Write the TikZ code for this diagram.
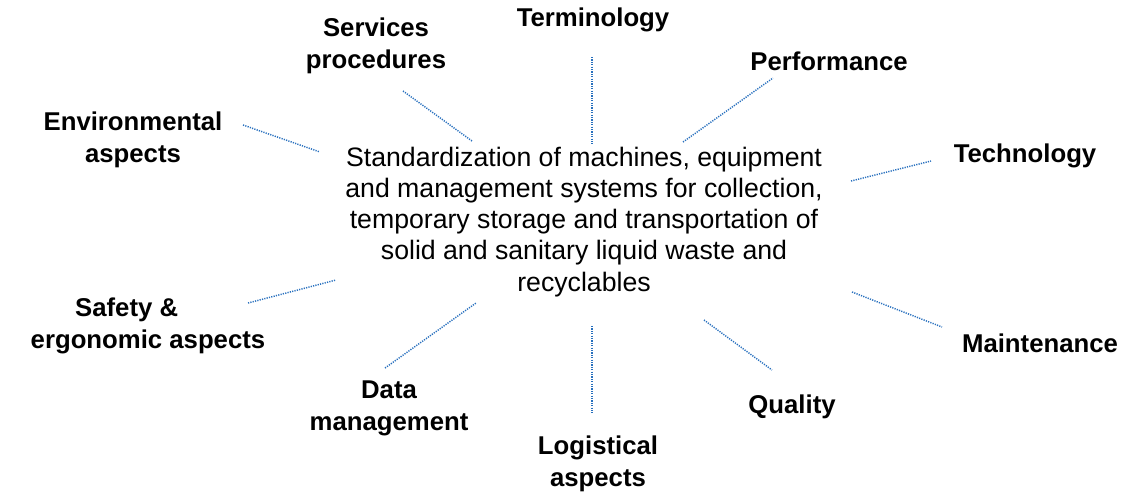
\documentclass[tikz,border=0pt]{standalone}
\usepackage{fontspec}
\setmainfont{Liberation Sans}
\definecolor{linkblue}{RGB}{40,112,190}
\begin{document}
\begin{tikzpicture}[x=0.75pt,y=-0.75pt,
  lbl/.style={font=\fontsize{19.3}{24}\selectfont\bfseries, align=center, inner sep=0pt, text=black},
  centre/.style={font=\fontsize{20}{23.3}\selectfont, align=center, inner sep=0pt},
  link/.style={draw=linkblue, line width=1.1pt, dash pattern=on 0.9pt off 0.9pt}]
\useasboundingbox (0,0) rectangle (1127,497);
\node[centre] (c) at (584,222) {Standardization of machines, equipment\\and management systems for collection,\\temporary storage and transportation of\\solid and sanitary liquid waste and\\recyclables};
\node[lbl] (env) at (133,140) {Environmental\\aspects};
\node[lbl] (serv) at (376,46) {Services\\procedures};
\node[lbl] (term) at (593,20) {Terminology};
\node[lbl] (perf) at (829,61) {Performance};
\node[lbl] (tech) at (1025,156) {Technology};
\node[lbl] (maint) at (1040,343) {Maintenance};
\node[lbl] (qual) at (792,407) {Quality};
\node[lbl] (logi) at (598,464) {Logistical\\aspects};
\node[lbl] (data) at (389,408) {Data\\management};
\node[lbl] (safe) at (148,326) {Safety \&\hspace*{32pt}\\ergonomic aspects};
% endpoints
\coordinate (env1) at (243,125); \coordinate (env2) at (320,152);
\coordinate (serv1) at (403,91); \coordinate (serv2) at (472,141);
\coordinate (term1) at (592,57); \coordinate (term2) at (592,144);
\coordinate (perf1) at (683,142); \coordinate (perf2) at (773,78);
\coordinate (tech1) at (851,181); \coordinate (tech2) at (931,161);
\coordinate (maint1) at (852,292); \coordinate (maint2) at (942,327);
\coordinate (qual1) at (704,320); \coordinate (qual2) at (772,370);
\coordinate (logi1) at (592,326); \coordinate (logi2) at (592,413);
\coordinate (data1) at (385,368); \coordinate (data2) at (476,303);
\coordinate (safe1) at (248,303); \coordinate (safe2) at (336,280);
\foreach \n in {env,serv,term,perf,tech,maint,qual,logi,data,safe}
  \draw[link] (\n1) -- (\n2);
\end{tikzpicture}
\end{document}
